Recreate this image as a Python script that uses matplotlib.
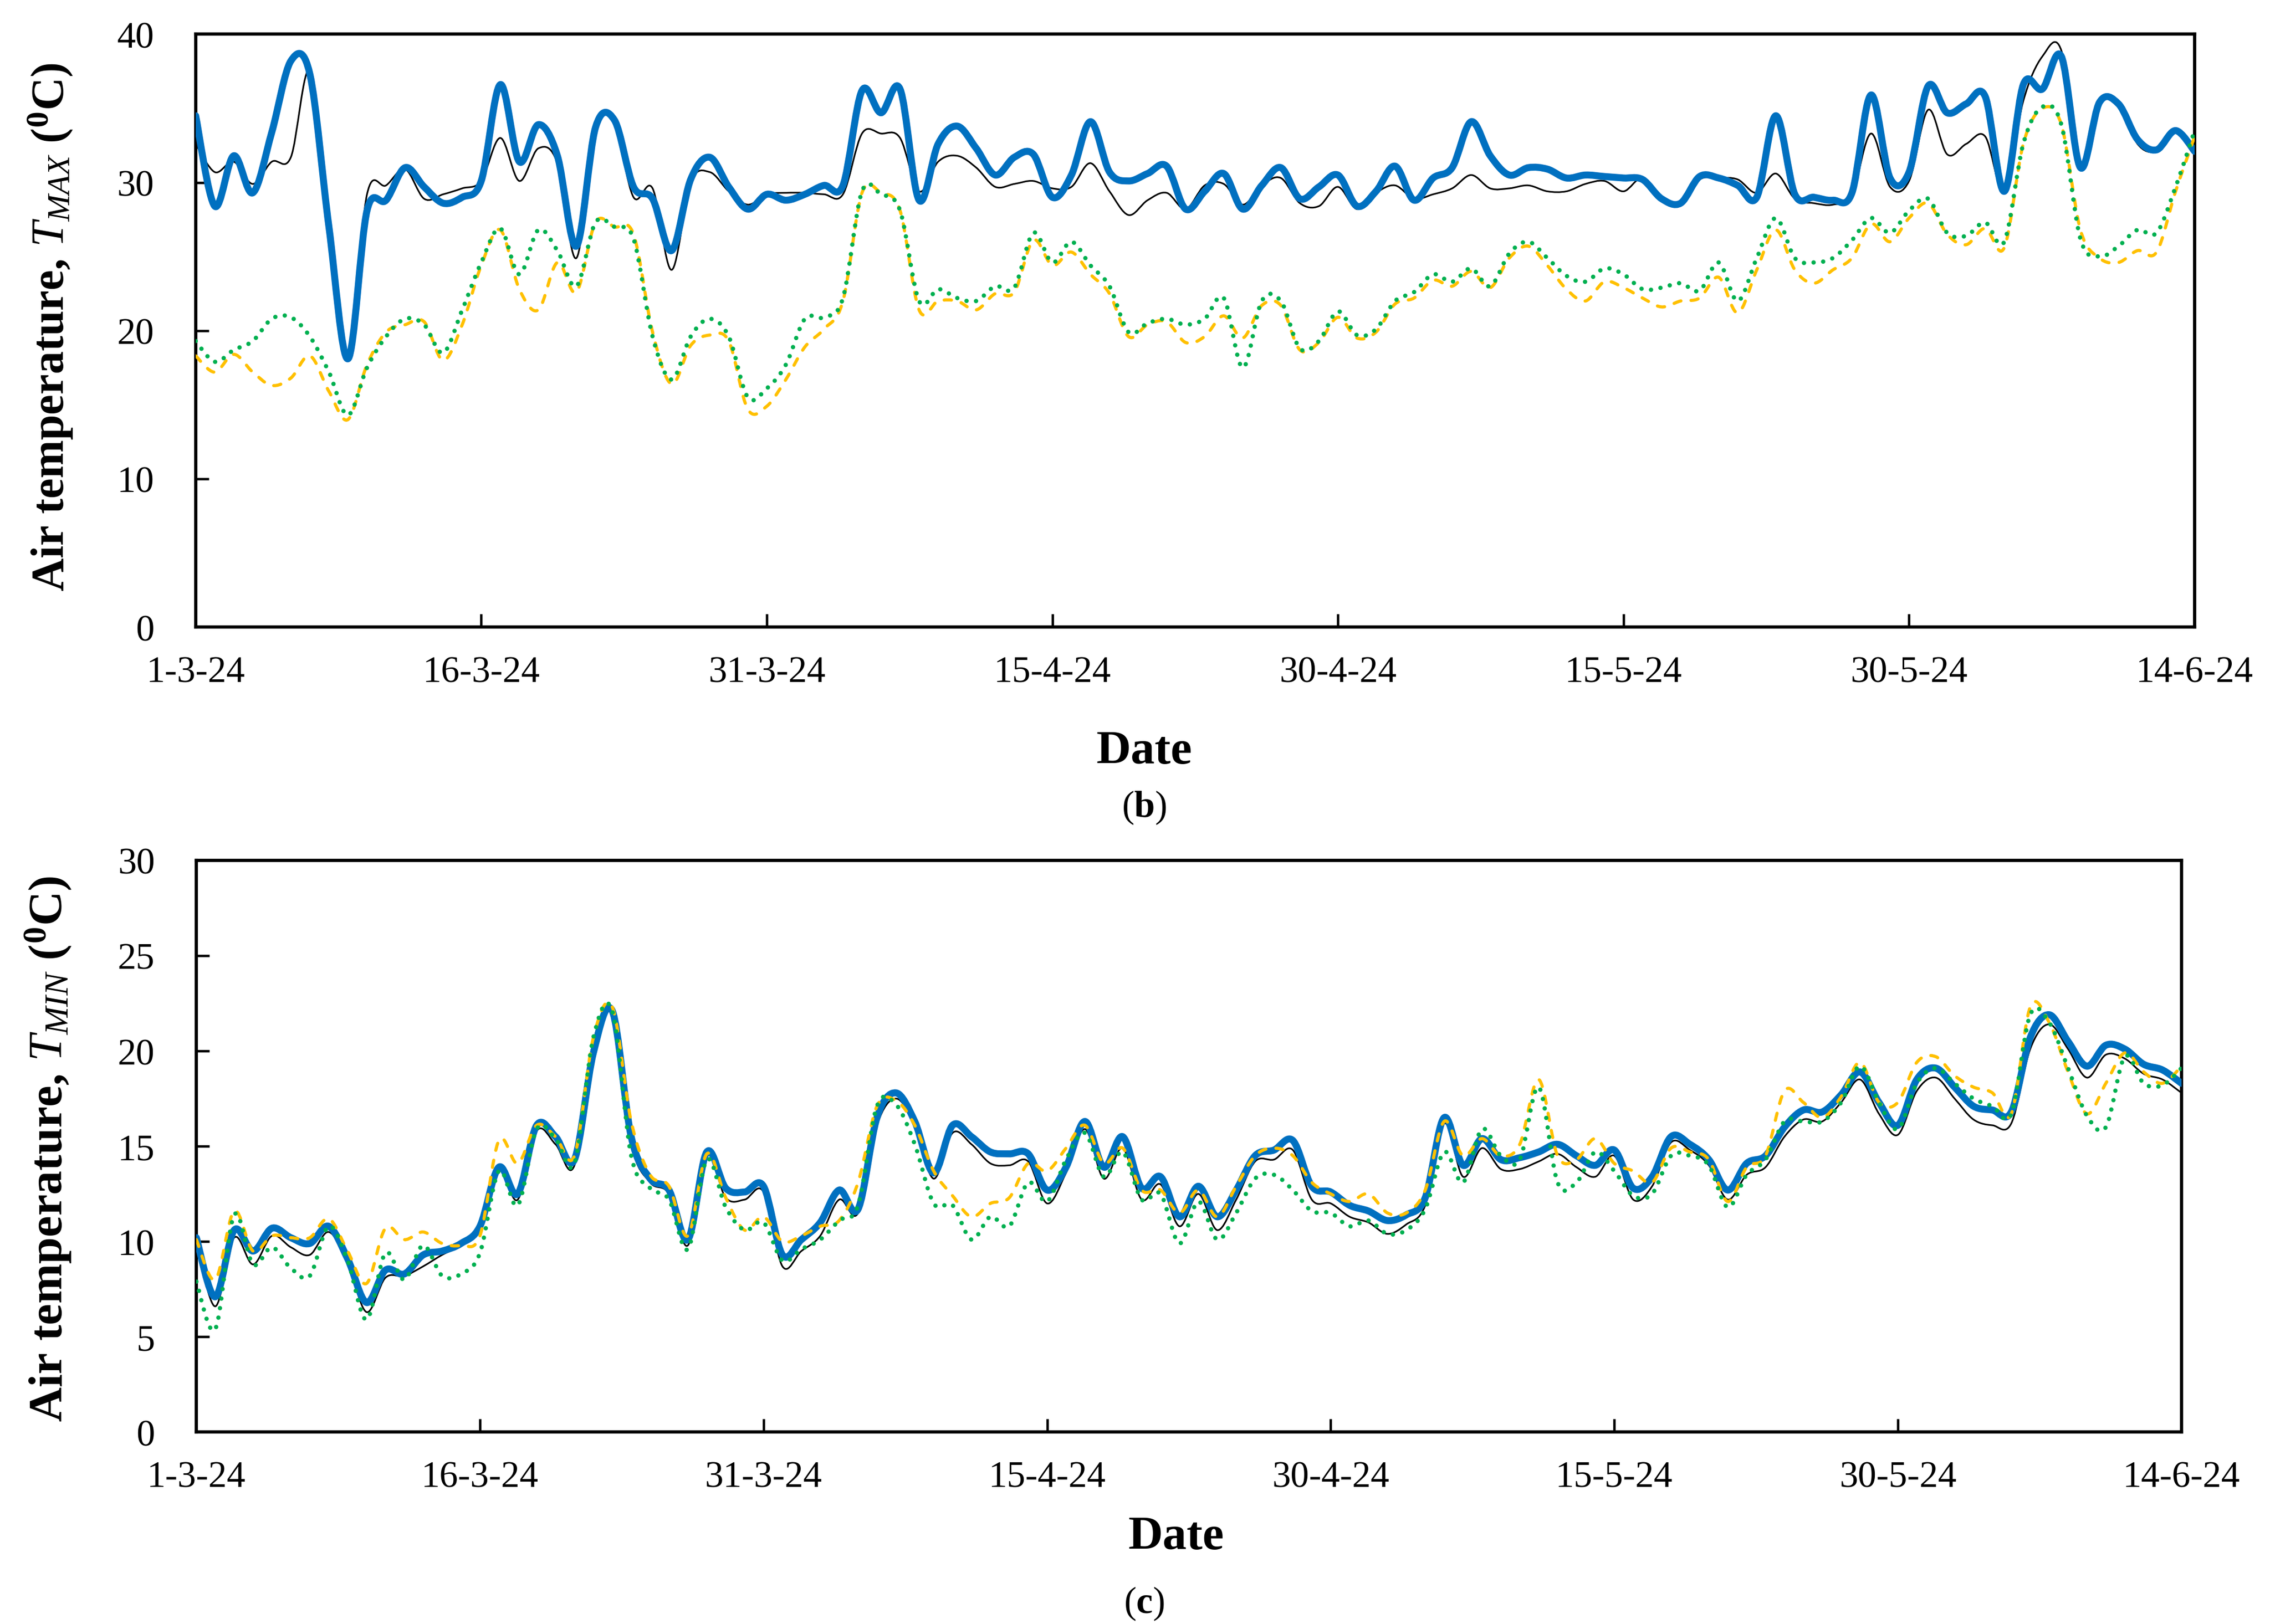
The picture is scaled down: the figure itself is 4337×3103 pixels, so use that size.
import numpy as np
import matplotlib
matplotlib.use('Agg')
import matplotlib.pyplot as plt
from matplotlib.path import Path
from matplotlib.patches import PathPatch

plt.rcParams['font.family'] = 'Liberation Serif'
plt.rcParams['mathtext.fontset'] = 'custom'
plt.rcParams['mathtext.rm'] = 'Liberation Serif:bold'
plt.rcParams['mathtext.it'] = 'Liberation Serif:italic'
plt.rcParams['mathtext.bf'] = 'Liberation Serif:bold'

# days since 1-3-24
tick_days = [0, 15, 30, 45, 60, 75, 90, 105]
tick_labels = ['1-3-24', '16-3-24', '31-3-24', '15-4-24', '30-4-24', '15-5-24', '30-5-24', '14-6-24']

# ---- T_MAX (panel b) ----
tmax_blue = [34.5, 28.4, 31.8, 29.3, 33.4, 38.2, 37.3, 27.0, 18.1, 28.1, 28.8, 31.0, 29.7, 28.6, 29.0, 30.1,
             36.6, 31.4, 33.9, 31.8, 25.7, 33.7, 34.2, 29.7, 28.9, 25.4, 30.2, 31.7, 29.7, 28.2, 29.2, 28.8,
             29.2, 29.8, 29.8, 36.2, 34.7, 36.3, 28.8, 32.6, 33.8, 32.3, 30.5, 31.7, 31.9, 29.0, 30.5, 34.1,
             30.7, 30.1, 30.6, 31.1, 28.2, 29.4, 30.6, 28.2, 29.8, 31.0, 28.9, 29.7, 30.5, 28.4, 29.4, 31.1,
             28.8, 30.3, 31.0, 34.1, 31.8, 30.5, 31.0, 30.9, 30.3, 30.5, 30.4, 30.3, 30.2, 28.9, 28.6, 30.4,
             30.3, 29.8, 29.0, 34.5, 29.2, 29.0, 28.8, 29.3, 35.9, 30.3, 30.7, 36.5, 34.7, 35.3, 35.8, 29.4,
             36.6, 36.3, 38.5, 31.0, 35.4, 35.3, 32.9, 32.2, 33.5, 32.1]
tmax_black = [32.6, 30.7, 31.4, 29.9, 31.4, 31.7, 37.5, 27.5, 18.3, 29.2, 29.8, 30.9, 28.9, 29.2, 29.6, 30.1,
              33.0, 30.1, 32.3, 31.3, 24.9, 33.8, 33.9, 29.0, 29.6, 24.1, 30.0, 30.7, 29.4, 28.5, 29.2, 29.3,
              29.3, 29.2, 29.2, 33.3, 33.3, 33.0, 29.4, 31.4, 31.8, 31.0, 29.7, 29.9, 30.1, 29.6, 29.7, 31.3,
              29.4, 27.8, 28.8, 29.3, 28.2, 29.8, 29.9, 28.5, 29.8, 30.3, 28.6, 28.4, 29.7, 28.2, 29.3, 29.8,
              28.9, 29.2, 29.6, 30.5, 29.6, 29.6, 29.8, 29.4, 29.4, 29.9, 30.1, 29.4, 30.3, 28.9, 28.6, 30.2,
              30.3, 30.2, 29.3, 30.6, 28.9, 28.6, 28.5, 29.2, 33.3, 29.7, 30.1, 34.9, 31.9, 32.6, 33.1, 29.4,
              35.5, 38.5, 38.9, 31.0, 35.4, 35.4, 32.6, 32.1, 33.4, 32.1]
tmax_yellow = [18.3, 17.2, 18.4, 17.2, 16.3, 16.8, 18.3, 15.9, 14.0, 17.7, 19.9, 20.4, 20.6, 18.0, 20.4, 24.4,
               26.8, 22.8, 21.4, 24.6, 22.6, 27.3, 27.0, 26.5, 19.9, 16.4, 19.0, 19.7, 19.3, 14.7, 14.9, 16.7,
               18.9, 20.1, 22.0, 29.3, 29.3, 28.1, 21.4, 22.0, 22.0, 21.4, 22.5, 22.6, 26.1, 24.4, 25.3, 23.8,
               22.5, 19.6, 20.4, 20.6, 19.2, 19.6, 21.0, 19.5, 21.7, 21.7, 18.7, 19.2, 20.9, 19.5, 19.9, 21.8,
               22.2, 23.4, 23.0, 24.0, 22.9, 24.9, 25.7, 24.4, 22.8, 22.0, 23.3, 22.9, 22.2, 21.6, 22.0, 22.2,
               23.6, 21.2, 24.1, 26.8, 24.1, 23.2, 24.1, 24.9, 27.2, 26.0, 27.6, 28.6, 26.5, 25.8, 26.9, 25.6,
               32.6, 35.0, 33.9, 26.8, 24.9, 24.6, 25.4, 25.3, 29.4, 33.1]
tmax_green = [19.3, 17.9, 18.7, 19.3, 20.8, 20.9, 19.6, 17.2, 14.3, 17.5, 19.6, 20.8, 20.4, 18.5, 21.4, 24.6,
              26.9, 23.8, 26.8, 25.4, 23.0, 27.3, 27.0, 26.2, 19.6, 16.7, 19.6, 20.8, 19.6, 15.5, 16.1, 17.7,
              20.8, 20.9, 22.2, 29.4, 29.2, 28.1, 22.0, 22.8, 22.2, 22.0, 23.0, 22.9, 26.6, 24.6, 26.0, 24.4,
              23.0, 19.9, 20.5, 20.8, 20.4, 20.8, 22.2, 17.5, 22.0, 22.0, 18.8, 19.3, 21.3, 19.7, 20.1, 22.0,
              22.6, 23.8, 23.3, 24.2, 23.0, 25.2, 26.0, 24.9, 23.7, 23.3, 24.2, 23.8, 22.8, 22.9, 23.2, 22.7,
              24.6, 22.0, 24.9, 27.6, 24.9, 24.6, 24.9, 26.1, 27.6, 26.6, 28.1, 28.9, 26.6, 26.4, 27.3, 26.0,
              32.6, 35.1, 33.9, 26.2, 25.0, 25.7, 26.8, 26.6, 29.7, 33.5]

# ---- T_MIN (panel c) ----
tmin_blue = [10.2, 7.1, 10.6, 9.5, 10.7, 10.2, 9.9, 10.8, 9.1, 6.8, 8.5, 8.3, 9.3, 9.5, 9.9, 10.8,
             13.9, 12.5, 16.1, 15.5, 14.3, 19.9, 22.1, 15.5, 13.3, 12.7, 10.1, 14.7, 12.8, 12.6, 12.9, 9.3,
             10.1, 11.0, 12.7, 11.7, 16.5, 17.8, 16.3, 13.6, 16.1, 15.5, 14.7, 14.6, 14.6, 12.7, 13.9, 16.3,
             13.9, 15.5, 12.8, 13.4, 11.3, 12.9, 11.3, 12.7, 14.5, 14.8, 15.3, 12.9, 12.6, 11.9, 11.6, 11.1,
             11.4, 12.3, 16.5, 14.0, 15.4, 14.3, 14.4, 14.7, 15.1, 14.5, 14.0, 14.8, 12.8, 13.4, 15.5, 15.1,
             14.3, 12.7, 14.1, 14.5, 16.0, 16.9, 16.8, 17.7, 18.9, 17.3, 16.1, 18.5, 19.1, 18.1, 17.1, 16.9,
             16.8, 20.7, 21.9, 20.5, 19.2, 20.3, 20.1, 19.3, 19.0, 18.3]
tmin_black = [10.0, 6.6, 10.2, 8.8, 10.3, 9.7, 9.3, 10.5, 8.9, 6.3, 8.1, 8.2, 8.7, 9.3, 9.8, 10.6,
              13.7, 12.2, 15.8, 15.1, 14.0, 20.5, 21.8, 15.1, 13.1, 12.5, 9.8, 14.5, 12.3, 12.2, 12.6, 8.7,
              9.5, 10.3, 12.2, 11.5, 16.1, 17.5, 16.1, 13.3, 15.7, 15.1, 14.1, 14.0, 14.2, 12.0, 13.6, 15.9,
              13.3, 14.9, 12.2, 13.0, 10.8, 12.5, 10.6, 12.2, 14.2, 14.3, 14.8, 12.2, 12.0, 11.3, 11.0, 10.4,
              10.9, 11.9, 16.2, 13.4, 14.9, 13.8, 13.8, 14.2, 14.6, 13.9, 13.4, 14.5, 12.2, 12.9, 15.2, 14.8,
              14.0, 12.2, 13.5, 13.9, 15.5, 16.4, 16.3, 17.3, 18.5, 16.7, 15.6, 17.9, 18.6, 17.5, 16.4, 16.1,
              16.2, 20.1, 21.4, 20.1, 18.6, 19.8, 19.6, 18.8, 18.5, 17.8]
tmin_yellow = [10.1, 8.0, 11.6, 9.5, 10.3, 10.2, 10.2, 11.2, 9.5, 7.8, 10.7, 10.1, 10.5, 9.9, 9.8, 10.3,
               15.3, 14.1, 16.1, 15.5, 14.5, 20.7, 22.3, 16.3, 13.5, 12.9, 10.3, 14.6, 12.3, 10.6, 11.3, 10.0,
               10.3, 10.8, 11.1, 13.1, 17.1, 17.4, 16.1, 13.7, 12.4, 11.3, 12.0, 12.3, 14.1, 13.7, 14.9, 16.1,
               14.1, 14.9, 12.7, 12.7, 11.5, 12.7, 11.3, 12.9, 14.5, 14.9, 14.5, 13.1, 12.5, 12.1, 12.5, 11.5,
               11.5, 12.7, 16.3, 14.5, 15.4, 14.5, 15.1, 18.5, 14.5, 14.3, 15.4, 14.1, 13.7, 13.1, 14.9, 14.7,
               14.3, 12.1, 13.9, 14.5, 17.9, 17.3, 16.5, 17.6, 19.4, 17.3, 17.3, 19.4, 19.7, 18.7, 18.1, 17.8,
               16.7, 22.3, 21.5, 18.9, 16.7, 18.3, 19.9, 18.9, 18.3, 19.2]
tmin_green = [7.9, 5.4, 11.4, 8.8, 9.7, 8.6, 8.2, 10.8, 9.0, 5.9, 9.4, 8.0, 9.8, 8.2, 8.3, 9.4,
              13.7, 11.9, 15.9, 15.4, 14.1, 20.7, 22.1, 14.5, 12.8, 12.2, 9.6, 14.3, 11.8, 10.6, 11.0, 9.0,
              9.6, 10.1, 11.1, 11.9, 17.1, 17.2, 15.1, 12.0, 11.9, 10.1, 11.3, 10.8, 13.1, 12.1, 14.3, 15.7,
              13.4, 14.7, 12.2, 12.5, 9.9, 12.1, 10.1, 11.5, 13.3, 13.5, 12.7, 11.6, 11.5, 10.8, 11.1, 10.4,
              10.6, 11.7, 14.7, 13.1, 15.9, 14.5, 14.3, 18.1, 13.1, 13.1, 14.7, 13.7, 12.4, 12.5, 14.5, 14.5,
              14.0, 11.8, 13.5, 14.3, 16.3, 16.3, 16.3, 17.3, 19.2, 17.3, 15.9, 18.3, 19.1, 18.3, 17.5, 17.1,
              16.7, 21.9, 21.5, 19.1, 16.6, 16.0, 19.7, 18.3, 18.2, 19.1]


def smooth_line(ax, x, y, **kw):
    # Excel-style smoothed line: cubic Bezier through every point
    p = np.column_stack([x, y]).astype(float)
    n = len(p)
    verts = [p[0]]
    codes = [Path.MOVETO]
    for i in range(n - 1):
        p0 = p[max(i - 1, 0)]
        p1 = p[i]
        p2 = p[i + 1]
        p3 = p[min(i + 2, n - 1)]
        verts += [p1 + (p2 - p0) / 6., p2 - (p3 - p1) / 6., p2]
        codes += [Path.CURVE4] * 3
    ax.add_patch(PathPatch(Path(verts, codes), fill=False, **kw))


def draw_panel(ax, blue, black, yellow, green, ymax, ystep):
    days = np.arange(len(blue))
    smooth_line(ax, days, black, edgecolor='black', lw=0.75, zorder=2)
    smooth_line(ax, days, blue, edgecolor='#0070C0', lw=3.2, zorder=3, capstyle='round', joinstyle='round')
    smooth_line(ax, days, yellow, edgecolor='#FFC000', lw=1.45, linestyle=(0, (2.3, 3.2)),
                capstyle='round', zorder=4)
    smooth_line(ax, days, green, edgecolor='#00B050', lw=2.0, linestyle=(0, (0.01, 2.2)),
                capstyle='round', zorder=5)
    ax.set_xlim(0, 105)
    ax.set_ylim(0, ymax)
    ax.set_xticks(tick_days)
    ax.set_xticklabels(tick_labels)
    ax.set_yticks(np.arange(0, ymax + 0.1, ystep))
    ax.tick_params(axis='both', direction='in', length=6, width=1.1, labelsize=17)
    ax.tick_params(axis='x', pad=13)
    ax.tick_params(axis='y', pad=19)
    for s in ax.spines.values():
        s.set_linewidth(1.5)


fig = plt.figure(figsize=(4337 / 300, 3104 / 300), dpi=300)

ax1 = fig.add_axes([0.0862, 0.6137, 0.9668 - 0.0862, 0.9786 - 0.6137])
draw_panel(ax1, tmax_blue, tmax_black, tmax_yellow, tmax_green, 40, 10)

ax2 = fig.add_axes([0.0865, 0.1181, 0.9610 - 0.0865, 0.4701 - 0.1181])
draw_panel(ax2, tmin_blue, tmin_black, tmin_yellow, tmin_green, 30, 5)

fig.text(0.022, 0.7985, r'Air temperature, $T_{MAX}$ ($^{0}$C)', rotation=90,
         ha='center', va='center', fontsize=21, fontweight='bold')
fig.text(0.021, 0.2928, r'Air temperature, $T_{MIN}$ ($^{0}$C)', rotation=90,
         ha='center', va='center', fontsize=22, fontweight='bold')

fig.text(0.504, 0.537, 'Date', ha='center', va='center', fontsize=22, fontweight='bold')
fig.text(0.504, 0.503, r'($\mathbf{b}$)', ha='center', va='center', fontsize=17)
fig.text(0.518, 0.0534, 'Date', ha='center', va='center', fontsize=22, fontweight='bold')
fig.text(0.504, 0.013, r'($\mathbf{c}$)', ha='center', va='center', fontsize=17)

fig.savefig('out.png', dpi=300)
